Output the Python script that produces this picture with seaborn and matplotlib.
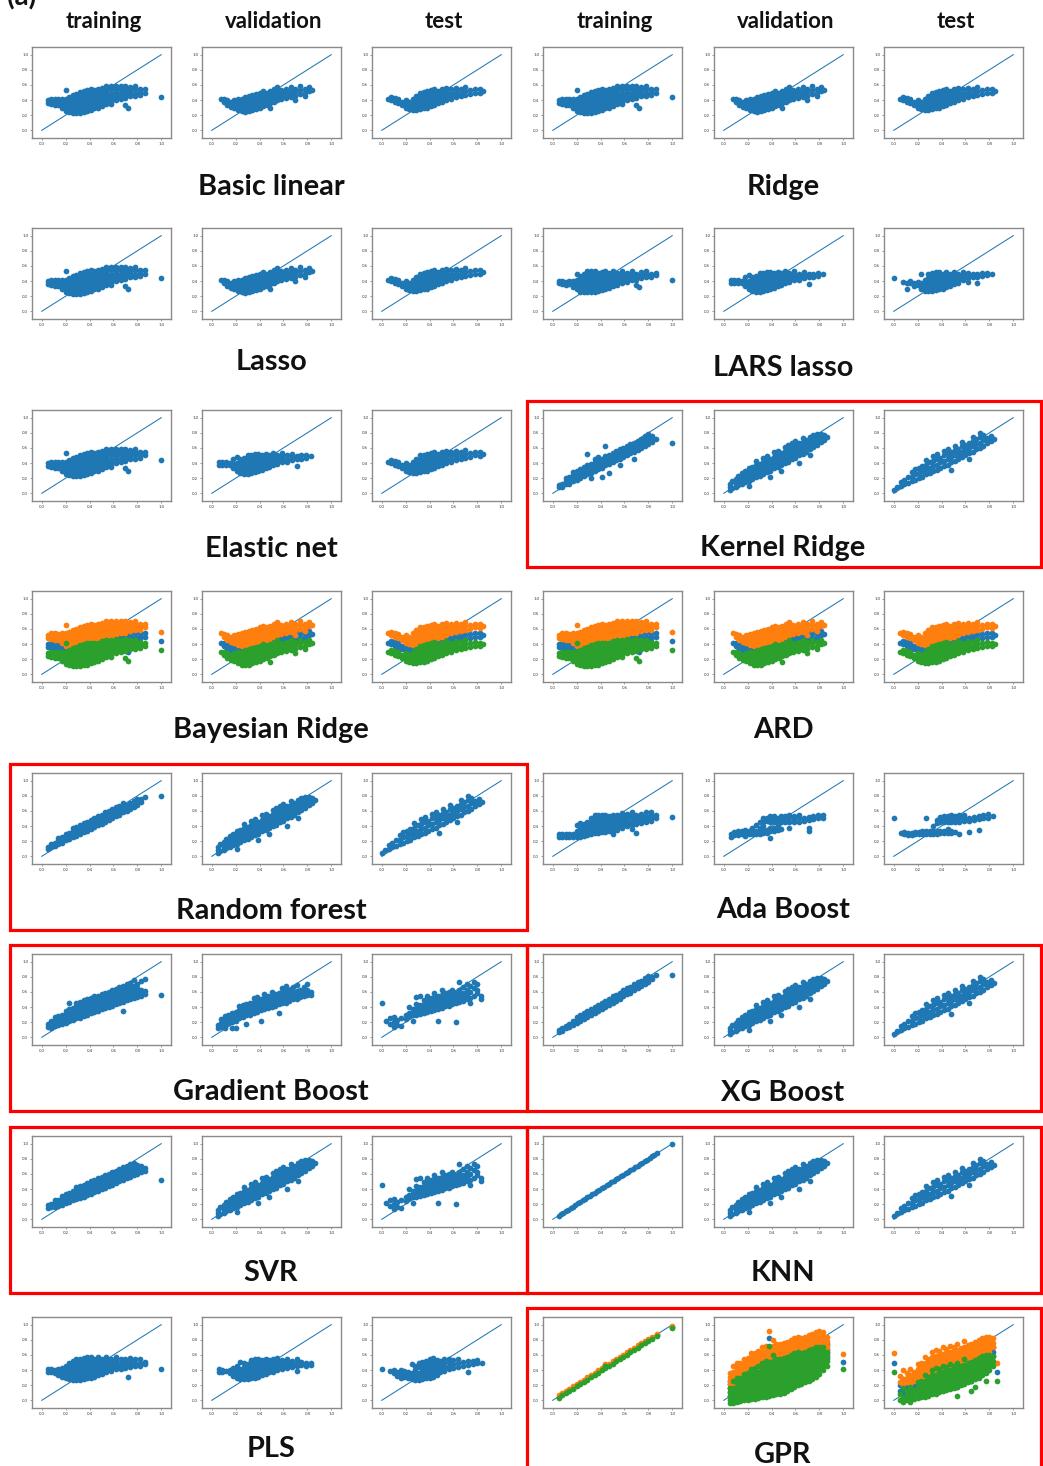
import matplotlib
matplotlib.use("Agg")
import matplotlib.pyplot as plt
from matplotlib.patches import Rectangle
import seaborn as sns

# ---------------------------------------------------------------------------
# Predicted (y) vs. actual (x) point clouds, stored column by column:
# each entry is (actual value, [predicted values at that actual value]).
# ---------------------------------------------------------------------------
FLAT_TRAIN = [
    (0.05, [0.36, 0.40]), (0.08, [0.35, 0.39, 0.42]), (0.11, [0.34, 0.38, 0.42]),
    (0.14, [0.33, 0.37, 0.41]), (0.17, [0.30, 0.34, 0.38, 0.42]),
    (0.20, [0.26, 0.30, 0.34, 0.38, 0.42, 0.53]), (0.23, [0.24, 0.28, 0.32, 0.36, 0.40, 0.44]),
    (0.26, [0.23, 0.27, 0.31, 0.35, 0.39, 0.43, 0.47]), (0.29, [0.23, 0.27, 0.31, 0.35, 0.39, 0.43, 0.48]),
    (0.32, [0.23, 0.27, 0.31, 0.35, 0.39, 0.43, 0.47, 0.51]),
    (0.35, [0.24, 0.28, 0.32, 0.36, 0.40, 0.44, 0.48, 0.52]),
    (0.38, [0.25, 0.29, 0.33, 0.37, 0.41, 0.45, 0.49, 0.53]),
    (0.41, [0.27, 0.31, 0.35, 0.39, 0.43, 0.47, 0.51, 0.54]),
    (0.44, [0.29, 0.33, 0.37, 0.41, 0.45, 0.49, 0.53]),
    (0.47, [0.30, 0.34, 0.38, 0.42, 0.46, 0.50, 0.54]),
    (0.50, [0.32, 0.36, 0.40, 0.44, 0.48, 0.52, 0.56]),
    (0.54, [0.35, 0.39, 0.43, 0.47, 0.51, 0.55, 0.58]),
    (0.58, [0.38, 0.42, 0.46, 0.50, 0.54, 0.58, 0.35]),
    (0.62, [0.40, 0.44, 0.48, 0.52, 0.56, 0.59]), (0.66, [0.42, 0.46, 0.50, 0.54, 0.58]),
    (0.70, [0.43, 0.47, 0.51, 0.55, 0.59, 0.33]), (0.72, [0.30]),
    (0.74, [0.45, 0.49, 0.53, 0.57]), (0.78, [0.46, 0.50, 0.54, 0.58]),
    (0.82, [0.47, 0.51, 0.55]), (0.86, [0.50, 0.54]), (1.00, [0.44]),
]
FLAT_VAL = [
    (0.08, [0.42]), (0.10, [0.37, 0.41]), (0.13, [0.34, 0.40]), (0.16, [0.31, 0.37]),
    (0.19, [0.30, 0.35, 0.40]), (0.22, [0.27, 0.31, 0.36, 0.41]),
    (0.25, [0.25, 0.29, 0.33, 0.37, 0.42]), (0.28, [0.24, 0.28, 0.32, 0.36, 0.40, 0.44]),
    (0.31, [0.25, 0.29, 0.33, 0.37, 0.41, 0.45]), (0.34, [0.27, 0.31, 0.35, 0.39, 0.43, 0.47]),
    (0.37, [0.28, 0.32, 0.36, 0.40, 0.44, 0.48]), (0.40, [0.30, 0.34, 0.38, 0.42, 0.46, 0.50]),
    (0.43, [0.32, 0.36, 0.40, 0.44, 0.48, 0.52]), (0.46, [0.34, 0.38, 0.42, 0.46, 0.50]),
    (0.49, [0.36, 0.40, 0.44, 0.48, 0.52, 0.29]), (0.52, [0.38, 0.42, 0.46, 0.50, 0.54]),
    (0.55, [0.40, 0.44, 0.48, 0.52, 0.57]), (0.58, [0.41, 0.45, 0.49, 0.53]),
    (0.62, [0.43, 0.47, 0.51, 0.55]), (0.66, [0.44, 0.48, 0.52, 0.57]),
    (0.70, [0.40, 0.46, 0.51, 0.55]), (0.74, [0.48, 0.53, 0.58]), (0.78, [0.45, 0.50, 0.55]),
    (0.81, [0.52, 0.57]), (0.84, [0.53]),
]
FLAT_TEST = [
    (0.05, [0.42]), (0.08, [0.40, 0.44]), (0.11, [0.38, 0.43]), (0.14, [0.36, 0.41]),
    (0.17, [0.33, 0.38]), (0.20, [0.30, 0.35, 0.40]), (0.23, [0.28, 0.33, 0.38]),
    (0.26, [0.27, 0.31, 0.36, 0.42]), (0.29, [0.27, 0.31, 0.35, 0.40, 0.46]),
    (0.32, [0.28, 0.32, 0.36, 0.40, 0.45, 0.50]), (0.35, [0.29, 0.33, 0.37, 0.41, 0.46, 0.51]),
    (0.38, [0.30, 0.34, 0.38, 0.42, 0.47, 0.52]), (0.41, [0.32, 0.36, 0.40, 0.44, 0.48, 0.53]),
    (0.44, [0.34, 0.38, 0.42, 0.46, 0.50, 0.55]), (0.47, [0.36, 0.40, 0.44, 0.48, 0.52]),
    (0.50, [0.38, 0.42, 0.46, 0.50, 0.54]), (0.54, [0.40, 0.44, 0.48, 0.52, 0.56]),
    (0.58, [0.42, 0.46, 0.50, 0.54]), (0.62, [0.44, 0.48, 0.52, 0.56]),
    (0.66, [0.45, 0.50, 0.55]), (0.70, [0.47, 0.52, 0.57]), (0.74, [0.48, 0.53]),
    (0.78, [0.50, 0.55]), (0.82, [0.49, 0.54]), (0.85, [0.52]),
]

LARS_TRAIN = [
    (0.05, [0.37, 0.40]), (0.08, [0.36, 0.40]), (0.11, [0.35, 0.39]), (0.14, [0.36, 0.40]),
    (0.17, [0.32, 0.36, 0.40]), (0.20, [0.29, 0.33, 0.37, 0.41, 0.49]),
    (0.23, [0.26, 0.30, 0.34, 0.38, 0.42, 0.47]), (0.26, [0.25, 0.29, 0.33, 0.37, 0.41, 0.45, 0.50]),
    (0.29, [0.25, 0.29, 0.33, 0.37, 0.41, 0.45, 0.50, 0.53]),
    (0.32, [0.25, 0.29, 0.33, 0.37, 0.41, 0.45, 0.49, 0.53]),
    (0.35, [0.26, 0.30, 0.34, 0.38, 0.42, 0.46, 0.50, 0.53]),
    (0.38, [0.27, 0.31, 0.35, 0.39, 0.43, 0.47, 0.51]),
    (0.41, [0.28, 0.32, 0.36, 0.40, 0.44, 0.48, 0.52]),
    (0.44, [0.29, 0.33, 0.37, 0.41, 0.45, 0.49, 0.53]),
    (0.47, [0.31, 0.35, 0.39, 0.43, 0.47, 0.51]), (0.50, [0.33, 0.37, 0.41, 0.45, 0.49, 0.53]),
    (0.54, [0.35, 0.39, 0.43, 0.47, 0.51]), (0.58, [0.37, 0.41, 0.45, 0.49, 0.53]),
    (0.62, [0.39, 0.43, 0.47, 0.51]), (0.66, [0.41, 0.45, 0.49, 0.53]),
    (0.70, [0.42, 0.46, 0.50, 0.35]), (0.72, [0.32]), (0.74, [0.44, 0.48, 0.52]),
    (0.78, [0.45, 0.49, 0.53]), (0.82, [0.46, 0.50]), (0.86, [0.48, 0.51]), (1.00, [0.42]),
]
LARS_VAL = [
    (0.06, [0.38, 0.41]), (0.09, [0.38, 0.41]), (0.12, [0.38, 0.41]), (0.15, [0.37, 0.40]),
    (0.18, [0.34, 0.39, 0.45]), (0.21, [0.30, 0.35, 0.40, 0.48]),
    (0.24, [0.27, 0.31, 0.36, 0.41, 0.46]), (0.27, [0.26, 0.30, 0.34, 0.38, 0.42, 0.47]),
    (0.30, [0.26, 0.30, 0.34, 0.38, 0.42, 0.46, 0.51]),
    (0.33, [0.27, 0.31, 0.35, 0.39, 0.43, 0.47, 0.51]),
    (0.36, [0.28, 0.32, 0.36, 0.40, 0.44, 0.48, 0.52]),
    (0.39, [0.29, 0.33, 0.37, 0.41, 0.45, 0.49, 0.52]),
    (0.42, [0.31, 0.35, 0.39, 0.43, 0.47, 0.51]), (0.45, [0.33, 0.37, 0.41, 0.45, 0.49, 0.52]),
    (0.48, [0.35, 0.39, 0.43, 0.47, 0.51]), (0.51, [0.37, 0.41, 0.45, 0.49, 0.53]),
    (0.55, [0.39, 0.43, 0.47, 0.51]), (0.59, [0.41, 0.45, 0.49, 0.53]),
    (0.63, [0.42, 0.46, 0.50]), (0.67, [0.44, 0.48, 0.52]), (0.71, [0.36, 0.45, 0.49]),
    (0.75, [0.46, 0.50]), (0.79, [0.47, 0.51]), (0.83, [0.49]),
]
LARS_TEST = [
    (0.00, [0.44]), (0.08, [0.39]), (0.11, [0.38, 0.30]), (0.14, [0.37, 0.40]),
    (0.17, [0.33, 0.38]), (0.20, [0.35, 0.39]), (0.23, [0.29, 0.33, 0.38, 0.49]),
    (0.26, [0.27, 0.31, 0.36, 0.41]), (0.29, [0.27, 0.31, 0.35, 0.39, 0.44, 0.49]),
    (0.32, [0.27, 0.31, 0.35, 0.39, 0.43, 0.47, 0.51]),
    (0.35, [0.28, 0.32, 0.36, 0.40, 0.44, 0.48, 0.52]),
    (0.38, [0.29, 0.33, 0.37, 0.41, 0.45, 0.49, 0.52]),
    (0.41, [0.30, 0.34, 0.38, 0.42, 0.46, 0.50]), (0.44, [0.32, 0.36, 0.40, 0.44, 0.48, 0.52]),
    (0.47, [0.34, 0.38, 0.42, 0.46, 0.50]), (0.50, [0.36, 0.40, 0.44, 0.48, 0.52]),
    (0.54, [0.38, 0.42, 0.46, 0.50]), (0.58, [0.41, 0.45, 0.49, 0.52]),
    (0.62, [0.39, 0.44, 0.48, 0.51]), (0.66, [0.45, 0.49]), (0.70, [0.38, 0.46, 0.50]),
    (0.74, [0.47, 0.51]), (0.78, [0.48, 0.51]), (0.82, [0.49]),
]

PLS_TRAIN = [
    (0.05, [0.38, 0.41]), (0.08, [0.37, 0.41]), (0.11, [0.36, 0.40]), (0.14, [0.33, 0.37, 0.41]),
    (0.17, [0.31, 0.35, 0.39, 0.43]), (0.20, [0.29, 0.33, 0.37, 0.41, 0.45]),
    (0.23, [0.28, 0.32, 0.36, 0.40, 0.44, 0.50]), (0.26, [0.27, 0.31, 0.35, 0.39, 0.43, 0.47, 0.52]),
    (0.29, [0.27, 0.31, 0.35, 0.39, 0.43, 0.47, 0.51, 0.54]),
    (0.32, [0.27, 0.31, 0.35, 0.39, 0.43, 0.47, 0.51, 0.55]),
    (0.35, [0.28, 0.32, 0.36, 0.40, 0.44, 0.48, 0.52, 0.56]),
    (0.38, [0.29, 0.33, 0.37, 0.41, 0.45, 0.49, 0.53, 0.57]),
    (0.41, [0.30, 0.34, 0.38, 0.42, 0.46, 0.50, 0.54, 0.57]),
    (0.44, [0.31, 0.35, 0.39, 0.43, 0.47, 0.51, 0.55]),
    (0.47, [0.33, 0.37, 0.41, 0.45, 0.49, 0.53, 0.57]),
    (0.50, [0.35, 0.39, 0.43, 0.47, 0.51, 0.55]), (0.54, [0.37, 0.41, 0.45, 0.49, 0.53, 0.57]),
    (0.58, [0.39, 0.43, 0.47, 0.51, 0.55]), (0.62, [0.41, 0.45, 0.49, 0.53, 0.57]),
    (0.66, [0.42, 0.46, 0.50, 0.54]), (0.70, [0.43, 0.47, 0.51, 0.55]), (0.72, [0.31]),
    (0.74, [0.44, 0.48, 0.52, 0.56]), (0.78, [0.46, 0.50, 0.54]), (0.82, [0.46, 0.50, 0.54]),
    (0.86, [0.48, 0.51]), (1.00, [0.42]),
]
PLS_VAL = [
    (0.06, [0.38, 0.41]), (0.09, [0.37, 0.40]), (0.12, [0.39]), (0.15, [0.36, 0.40]),
    (0.18, [0.32, 0.38, 0.43]), (0.21, [0.30, 0.35, 0.40, 0.46]),
    (0.24, [0.28, 0.32, 0.37, 0.42, 0.51]), (0.27, [0.28, 0.32, 0.36, 0.40, 0.44, 0.49]),
    (0.30, [0.28, 0.32, 0.36, 0.40, 0.44, 0.48]), (0.33, [0.29, 0.33, 0.37, 0.41, 0.45, 0.49, 0.53]),
    (0.36, [0.30, 0.34, 0.38, 0.42, 0.46, 0.50, 0.54]),
    (0.39, [0.31, 0.35, 0.39, 0.43, 0.47, 0.51, 0.55]),
    (0.42, [0.33, 0.37, 0.41, 0.45, 0.49, 0.53]), (0.45, [0.35, 0.39, 0.43, 0.47, 0.51, 0.55]),
    (0.48, [0.37, 0.41, 0.45, 0.49, 0.53]), (0.51, [0.38, 0.42, 0.46, 0.50, 0.54]),
    (0.55, [0.40, 0.44, 0.48, 0.52, 0.56]), (0.59, [0.41, 0.45, 0.49, 0.53]),
    (0.63, [0.43, 0.47, 0.51, 0.55]), (0.67, [0.44, 0.48, 0.52]), (0.71, [0.39, 0.46, 0.50, 0.54]),
    (0.75, [0.47, 0.51]), (0.79, [0.46, 0.50]), (0.83, [0.50, 0.47]),
]
PLS_TEST = [
    (0.00, [0.41]), (0.07, [0.39]), (0.10, [0.36, 0.40]), (0.13, [0.32, 0.38]),
    (0.16, [0.30, 0.36, 0.40]), (0.19, [0.31, 0.35, 0.39]), (0.22, [0.29, 0.33, 0.37]),
    (0.25, [0.28, 0.32, 0.36, 0.48]), (0.28, [0.27, 0.31, 0.35, 0.40, 0.46]),
    (0.31, [0.27, 0.31, 0.36, 0.44, 0.49]), (0.34, [0.28, 0.32, 0.37, 0.42, 0.47, 0.51]),
    (0.37, [0.29, 0.33, 0.38, 0.43, 0.48, 0.52]), (0.40, [0.30, 0.34, 0.39, 0.44, 0.49, 0.54]),
    (0.43, [0.31, 0.35, 0.40, 0.45, 0.50, 0.56]), (0.46, [0.34, 0.38, 0.43, 0.48, 0.53]),
    (0.49, [0.37, 0.42, 0.47, 0.52]), (0.52, [0.39, 0.44, 0.49, 0.54]),
    (0.56, [0.41, 0.46, 0.51, 0.55]), (0.60, [0.43, 0.48, 0.53]), (0.64, [0.44, 0.49, 0.54]),
    (0.68, [0.46, 0.51]), (0.72, [0.38, 0.47, 0.52]), (0.76, [0.48, 0.52]),
    (0.80, [0.49, 0.53]), (0.84, [0.50]),
]

ADA_TRAIN = [
    (0.05, [0.26, 0.30]), (0.08, [0.25, 0.29]), (0.11, [0.25, 0.29]), (0.14, [0.26, 0.30]),
    (0.17, [0.26, 0.30]), (0.20, [0.25, 0.29, 0.33, 0.41]), (0.23, [0.26, 0.30, 0.36, 0.40, 0.44]),
    (0.26, [0.27, 0.31, 0.35, 0.39, 0.43]), (0.29, [0.28, 0.32, 0.36, 0.40, 0.45]),
    (0.32, [0.30, 0.34, 0.38, 0.42, 0.46, 0.51]),
    (0.35, [0.31, 0.35, 0.39, 0.43, 0.47, 0.51, 0.55]),
    (0.38, [0.31, 0.35, 0.39, 0.43, 0.47, 0.51, 0.55]),
    (0.41, [0.32, 0.36, 0.40, 0.44, 0.48, 0.52, 0.55]),
    (0.44, [0.32, 0.36, 0.40, 0.44, 0.48, 0.52, 0.55]),
    (0.47, [0.33, 0.37, 0.41, 0.45, 0.49, 0.53]),
    (0.50, [0.30, 0.34, 0.38, 0.42, 0.46, 0.50, 0.55]),
    (0.54, [0.35, 0.39, 0.43, 0.47, 0.51, 0.55]), (0.58, [0.37, 0.41, 0.45, 0.49, 0.53, 0.57]),
    (0.62, [0.40, 0.44, 0.48, 0.52, 0.56]), (0.66, [0.42, 0.46, 0.50, 0.54, 0.58, 0.36]),
    (0.70, [0.43, 0.47, 0.51, 0.55, 0.31]), (0.74, [0.44, 0.48, 0.52, 0.56]),
    (0.78, [0.45, 0.49, 0.53, 0.58]), (0.82, [0.47, 0.51, 0.55, 0.58]),
    (0.86, [0.50, 0.54]), (1.00, [0.52]),
]
ADA_VAL = [
    (0.06, [0.26, 0.30]), (0.09, [0.28, 0.32]), (0.12, [0.28, 0.33]), (0.15, [0.29, 0.33]),
    (0.18, [0.27, 0.31, 0.35]), (0.21, [0.29, 0.33]), (0.24, [0.29, 0.33, 0.37]),
    (0.27, [0.30, 0.34, 0.42]), (0.30, [0.30, 0.34, 0.38, 0.46]),
    (0.33, [0.31, 0.35, 0.40, 0.46, 0.50]), (0.36, [0.31, 0.35, 0.47, 0.51]),
    (0.39, [0.24, 0.33, 0.37, 0.45, 0.49, 0.53]), (0.42, [0.34, 0.38, 0.46, 0.50, 0.53]),
    (0.45, [0.35, 0.42, 0.47, 0.51]), (0.48, [0.36, 0.46, 0.50, 0.53]), (0.51, [0.45, 0.49, 0.53]),
    (0.55, [0.38, 0.46, 0.50, 0.54]), (0.59, [0.45, 0.49, 0.53]), (0.63, [0.46, 0.50, 0.54]),
    (0.67, [0.47, 0.51]), (0.71, [0.33, 0.37, 0.48, 0.52]), (0.75, [0.49, 0.53]),
    (0.79, [0.50, 0.55]), (0.83, [0.51, 0.54]),
]
ADA_TEST = [
    (0.00, [0.50]), (0.06, [0.31]), (0.09, [0.29, 0.32]), (0.12, [0.28, 0.31]),
    (0.15, [0.28, 0.31]), (0.18, [0.29, 0.32]), (0.21, [0.29, 0.32]), (0.24, [0.30, 0.33]),
    (0.27, [0.30, 0.33, 0.50]), (0.30, [0.30, 0.33]), (0.33, [0.30, 0.33, 0.40]),
    (0.36, [0.30, 0.33, 0.44, 0.48]), (0.39, [0.31, 0.34, 0.45, 0.49, 0.52]),
    (0.42, [0.31, 0.34, 0.46, 0.50, 0.53]), (0.45, [0.31, 0.36, 0.45, 0.49, 0.53]),
    (0.48, [0.31, 0.34, 0.46, 0.50, 0.54]), (0.51, [0.32, 0.45, 0.49, 0.53]),
    (0.55, [0.30, 0.46, 0.50, 0.54]), (0.59, [0.47, 0.51, 0.55]), (0.63, [0.32, 0.47, 0.51]),
    (0.67, [0.48, 0.52]), (0.71, [0.35, 0.49, 0.53]), (0.75, [0.50, 0.54]),
    (0.79, [0.51, 0.56]), (0.83, [0.53]),
]

KRR_TRAIN = [
    (0.05, [0.08, 0.11]), (0.08, [0.09, 0.13]), (0.11, [0.12, 0.16, 0.20]),
    (0.14, [0.13, 0.17, 0.21]), (0.17, [0.16, 0.20, 0.24, 0.28]), (0.20, [0.18, 0.22, 0.26, 0.30]),
    (0.23, [0.20, 0.24, 0.28, 0.32]), (0.26, [0.23, 0.27, 0.31, 0.35]),
    (0.29, [0.25, 0.29, 0.33, 0.37, 0.52]), (0.32, [0.27, 0.31, 0.35, 0.39, 0.20]),
    (0.35, [0.30, 0.34, 0.38, 0.42, 0.46]), (0.38, [0.32, 0.36, 0.40, 0.44, 0.48]),
    (0.41, [0.34, 0.38, 0.42, 0.46, 0.22]), (0.44, [0.37, 0.41, 0.45, 0.49, 0.62]),
    (0.47, [0.39, 0.43, 0.47, 0.51, 0.27]), (0.50, [0.41, 0.45, 0.49, 0.53]),
    (0.53, [0.44, 0.48, 0.52, 0.56]), (0.56, [0.46, 0.50, 0.54, 0.58, 0.38]),
    (0.59, [0.48, 0.52, 0.56, 0.60]), (0.62, [0.50, 0.54, 0.58, 0.62]),
    (0.65, [0.53, 0.57, 0.61, 0.65]), (0.68, [0.55, 0.59, 0.63, 0.67, 0.45]),
    (0.71, [0.57, 0.61, 0.65, 0.69]), (0.74, [0.60, 0.64, 0.68, 0.72]),
    (0.77, [0.62, 0.66, 0.70, 0.76]), (0.80, [0.65, 0.69, 0.73, 0.78]),
    (0.83, [0.68, 0.72, 0.76]), (0.86, [0.72]), (1.00, [0.66]),
]
KRR_VAL = [
    (0.05, [0.04, 0.09, 0.13]), (0.07, [0.07, 0.16]), (0.10, [0.08, 0.13, 0.19]),
    (0.12, [0.11, 0.17, 0.23]), (0.15, [0.12, 0.18, 0.22, 0.27]), (0.18, [0.15, 0.20, 0.26, 0.30]),
    (0.21, [0.17, 0.23, 0.27, 0.33, 0.10]), (0.24, [0.19, 0.24, 0.30, 0.35]),
    (0.27, [0.22, 0.27, 0.32, 0.38, 0.43]), (0.30, [0.23, 0.29, 0.34, 0.39]),
    (0.33, [0.25, 0.31, 0.36, 0.41, 0.47]), (0.36, [0.28, 0.33, 0.38, 0.44, 0.49]),
    (0.39, [0.30, 0.35, 0.41, 0.46, 0.22]), (0.42, [0.33, 0.38, 0.43, 0.48, 0.54]),
    (0.45, [0.35, 0.40, 0.46, 0.51, 0.56]), (0.48, [0.37, 0.43, 0.48, 0.53, 0.30]),
    (0.51, [0.40, 0.45, 0.50, 0.56, 0.61]), (0.54, [0.42, 0.48, 0.53, 0.58, 0.64]),
    (0.57, [0.45, 0.50, 0.55, 0.60, 0.66]), (0.60, [0.47, 0.52, 0.58, 0.63, 0.69]),
    (0.63, [0.50, 0.55, 0.60, 0.66, 0.40]), (0.66, [0.52, 0.58, 0.63, 0.68, 0.73]),
    (0.69, [0.55, 0.60, 0.66, 0.71]), (0.72, [0.58, 0.63, 0.68, 0.74, 0.50]),
    (0.75, [0.61, 0.66, 0.71, 0.77]), (0.78, [0.64, 0.69, 0.74, 0.79]),
    (0.81, [0.68, 0.73, 0.78]), (0.84, [0.71, 0.77]), (0.86, [0.75]),
]
KRR_TEST = [
    (0.00, [0.04]), (0.03, [0.08]), (0.06, [0.10, 0.15]), (0.09, [0.12, 0.18]),
    (0.12, [0.14, 0.22]), (0.15, [0.16, 0.22, 0.28]), (0.18, [0.18, 0.25, 0.32]),
    (0.21, [0.20, 0.27, 0.34]), (0.24, [0.22, 0.29, 0.36]), (0.27, [0.25, 0.32, 0.38, 0.44]),
    (0.30, [0.27, 0.34, 0.41]), (0.33, [0.29, 0.36, 0.43, 0.49]), (0.36, [0.31, 0.38, 0.45, 0.52]),
    (0.39, [0.34, 0.41, 0.47]), (0.42, [0.36, 0.43, 0.50, 0.56]), (0.45, [0.38, 0.45, 0.52, 0.59]),
    (0.48, [0.41, 0.48, 0.55, 0.31]), (0.51, [0.43, 0.50, 0.57, 0.63]), (0.54, [0.45, 0.52, 0.59]),
    (0.57, [0.48, 0.55, 0.62, 0.68]), (0.60, [0.50, 0.57, 0.64]), (0.63, [0.53, 0.60, 0.67, 0.45]),
    (0.66, [0.55, 0.62, 0.69, 0.75]), (0.69, [0.58, 0.65, 0.72]), (0.72, [0.60, 0.67, 0.74, 0.80]),
    (0.75, [0.63, 0.70, 0.77]), (0.78, [0.66, 0.73]), (0.81, [0.69, 0.76]), (0.84, [0.72]),
]

RF_TRAIN = [
    (0.05, [0.10, 0.13]), (0.08, [0.12, 0.16]), (0.11, [0.14, 0.18]), (0.14, [0.16, 0.20, 0.24]),
    (0.17, [0.18, 0.22, 0.26]), (0.20, [0.21, 0.25, 0.29]), (0.23, [0.23, 0.27, 0.31]),
    (0.26, [0.25, 0.29, 0.33, 0.37]), (0.29, [0.27, 0.31, 0.35, 0.39]),
    (0.32, [0.30, 0.34, 0.38, 0.42]), (0.35, [0.32, 0.36, 0.40, 0.44]),
    (0.38, [0.34, 0.38, 0.42, 0.46]), (0.41, [0.36, 0.40, 0.44, 0.48]),
    (0.44, [0.39, 0.43, 0.47, 0.51]), (0.47, [0.41, 0.45, 0.49, 0.53]),
    (0.50, [0.43, 0.47, 0.51, 0.55]), (0.53, [0.46, 0.50, 0.54, 0.58]),
    (0.56, [0.48, 0.52, 0.56, 0.60]), (0.59, [0.50, 0.54, 0.58, 0.62]),
    (0.62, [0.53, 0.57, 0.61, 0.65]), (0.65, [0.55, 0.59, 0.63, 0.67]),
    (0.68, [0.58, 0.62, 0.66, 0.70]), (0.71, [0.60, 0.64, 0.68]), (0.74, [0.63, 0.67, 0.71]),
    (0.77, [0.65, 0.69, 0.73]), (0.80, [0.68, 0.72, 0.76]), (0.83, [0.72, 0.76]),
    (0.86, [0.78]), (1.00, [0.80]),
]

GB_TRAIN = [
    (0.05, [0.14, 0.18]), (0.08, [0.13, 0.17, 0.21]), (0.11, [0.15, 0.19, 0.23, 0.27]),
    (0.14, [0.16, 0.20, 0.24, 0.28]), (0.17, [0.18, 0.22, 0.26, 0.30]),
    (0.20, [0.19, 0.23, 0.27, 0.31, 0.35]), (0.23, [0.21, 0.25, 0.29, 0.33, 0.37, 0.46]),
    (0.26, [0.23, 0.27, 0.31, 0.35, 0.39]), (0.29, [0.25, 0.29, 0.33, 0.37, 0.41, 0.45]),
    (0.32, [0.26, 0.30, 0.34, 0.38, 0.42, 0.47]), (0.35, [0.28, 0.32, 0.36, 0.40, 0.44, 0.49]),
    (0.38, [0.30, 0.34, 0.38, 0.42, 0.46, 0.50]), (0.41, [0.32, 0.36, 0.40, 0.44, 0.48, 0.52]),
    (0.44, [0.33, 0.37, 0.41, 0.45, 0.49, 0.54]), (0.47, [0.35, 0.39, 0.43, 0.47, 0.51, 0.55]),
    (0.50, [0.37, 0.41, 0.45, 0.49, 0.53, 0.57]), (0.53, [0.39, 0.43, 0.47, 0.51, 0.55, 0.59]),
    (0.56, [0.40, 0.44, 0.48, 0.52, 0.56, 0.60]), (0.59, [0.42, 0.46, 0.50, 0.54, 0.58, 0.62]),
    (0.62, [0.44, 0.48, 0.52, 0.56, 0.60, 0.64]), (0.65, [0.46, 0.50, 0.54, 0.58, 0.62, 0.66]),
    (0.68, [0.47, 0.51, 0.55, 0.59, 0.63, 0.68, 0.35]),
    (0.71, [0.49, 0.53, 0.57, 0.61, 0.65, 0.70]), (0.74, [0.51, 0.55, 0.59, 0.63, 0.67, 0.72]),
    (0.77, [0.52, 0.56, 0.60, 0.64, 0.68, 0.76]), (0.80, [0.53, 0.57, 0.61, 0.65, 0.70]),
    (0.83, [0.55, 0.59, 0.63, 0.75]), (0.86, [0.57, 0.61, 0.77]), (1.00, [0.56]),
]
GB_VAL = [
    (0.05, [0.12, 0.16]), (0.08, [0.14, 0.19, 0.24]), (0.11, [0.12, 0.17, 0.22, 0.28]),
    (0.14, [0.19, 0.24, 0.30]), (0.17, [0.20, 0.26, 0.32, 0.13]), (0.20, [0.22, 0.28, 0.34, 0.12]),
    (0.23, [0.25, 0.30, 0.36, 0.42]), (0.26, [0.27, 0.32, 0.37, 0.43]),
    (0.29, [0.29, 0.34, 0.39, 0.44, 0.18]), (0.32, [0.30, 0.35, 0.40, 0.46]),
    (0.35, [0.32, 0.37, 0.42, 0.47, 0.52]), (0.38, [0.34, 0.39, 0.44, 0.49, 0.53]),
    (0.41, [0.36, 0.41, 0.46, 0.51, 0.22]), (0.44, [0.37, 0.42, 0.47, 0.52, 0.57]),
    (0.47, [0.39, 0.44, 0.49, 0.54]), (0.50, [0.40, 0.45, 0.50, 0.55, 0.60]),
    (0.53, [0.42, 0.47, 0.52, 0.57]), (0.56, [0.44, 0.49, 0.54, 0.59, 0.32]),
    (0.59, [0.45, 0.50, 0.55, 0.60, 0.65]), (0.62, [0.46, 0.51, 0.56, 0.61, 0.68]),
    (0.65, [0.48, 0.53, 0.58, 0.63]), (0.68, [0.50, 0.55, 0.60, 0.66]),
    (0.71, [0.51, 0.56, 0.61, 0.69]), (0.74, [0.53, 0.58, 0.63]), (0.77, [0.54, 0.60, 0.66]),
    (0.80, [0.56, 0.62, 0.70]), (0.83, [0.56, 0.60]),
]
GB_TEST = [
    (0.00, [0.45]), (0.04, [0.22]), (0.07, [0.18, 0.25]), (0.10, [0.14, 0.20, 0.27]),
    (0.13, [0.16, 0.23]), (0.16, [0.15, 0.26]), (0.20, [0.24, 0.30]), (0.23, [0.28, 0.32, 0.40]),
    (0.26, [0.29, 0.33, 0.37, 0.22]), (0.29, [0.30, 0.34, 0.38, 0.44, 0.53]),
    (0.32, [0.31, 0.35, 0.39, 0.43, 0.55]), (0.35, [0.32, 0.36, 0.40, 0.44, 0.49]),
    (0.38, [0.33, 0.37, 0.41, 0.45, 0.50, 0.55]), (0.41, [0.35, 0.39, 0.43, 0.47, 0.52]),
    (0.44, [0.36, 0.40, 0.44, 0.48, 0.53, 0.58]), (0.47, [0.38, 0.42, 0.46, 0.50, 0.55, 0.22]),
    (0.50, [0.39, 0.43, 0.47, 0.51, 0.56, 0.62]), (0.53, [0.41, 0.45, 0.49, 0.53, 0.58]),
    (0.56, [0.42, 0.46, 0.50, 0.54, 0.60]), (0.59, [0.44, 0.48, 0.52, 0.57, 0.63]),
    (0.62, [0.45, 0.49, 0.53, 0.58, 0.20]), (0.65, [0.47, 0.51, 0.56, 0.62, 0.73]),
    (0.68, [0.48, 0.53, 0.59, 0.66]), (0.71, [0.50, 0.56, 0.62, 0.70]),
    (0.74, [0.45, 0.52, 0.60, 0.68]), (0.77, [0.55, 0.65, 0.73]), (0.80, [0.58, 0.62, 0.70]),
    (0.83, [0.55, 0.50]),
]

XG_TRAIN = [
    (0.05, [0.07, 0.10]), (0.08, [0.09, 0.13]), (0.11, [0.12, 0.15]), (0.14, [0.14, 0.18]),
    (0.17, [0.17, 0.21]), (0.20, [0.19, 0.23, 0.27]), (0.23, [0.22, 0.26, 0.29]),
    (0.26, [0.24, 0.28, 0.32]), (0.29, [0.27, 0.31, 0.35]), (0.32, [0.30, 0.34, 0.38]),
    (0.35, [0.32, 0.36, 0.40]), (0.38, [0.35, 0.39, 0.43]), (0.41, [0.38, 0.42, 0.46]),
    (0.44, [0.40, 0.44, 0.48]), (0.47, [0.43, 0.47, 0.51]), (0.50, [0.46, 0.50, 0.54]),
    (0.53, [0.48, 0.52, 0.56]), (0.56, [0.51, 0.55, 0.59]), (0.59, [0.54, 0.58, 0.62]),
    (0.62, [0.57, 0.61, 0.65]), (0.65, [0.59, 0.63, 0.67]), (0.68, [0.62, 0.66, 0.70]),
    (0.71, [0.65, 0.69, 0.73]), (0.74, [0.68, 0.72, 0.75]), (0.77, [0.70, 0.74, 0.78]),
    (0.80, [0.73, 0.77, 0.81]), (0.83, [0.77, 0.80]), (0.86, [0.82]), (1.00, [0.82]),
]

SVR_TRAIN = [
    (0.05, [0.15, 0.19]), (0.08, [0.16, 0.20]), (0.11, [0.17, 0.21, 0.25]),
    (0.14, [0.18, 0.22, 0.26]), (0.17, [0.19, 0.23, 0.27, 0.31]), (0.20, [0.21, 0.25, 0.29, 0.33]),
    (0.23, [0.23, 0.27, 0.31, 0.35]), (0.26, [0.25, 0.29, 0.33, 0.37]),
    (0.29, [0.27, 0.31, 0.35, 0.39, 0.43]), (0.32, [0.28, 0.32, 0.36, 0.40, 0.44]),
    (0.35, [0.30, 0.34, 0.38, 0.42, 0.46]), (0.38, [0.32, 0.36, 0.40, 0.44, 0.48]),
    (0.41, [0.34, 0.38, 0.42, 0.46, 0.50]), (0.44, [0.36, 0.40, 0.44, 0.48, 0.52]),
    (0.47, [0.38, 0.42, 0.46, 0.50, 0.54]), (0.50, [0.40, 0.44, 0.48, 0.52, 0.56]),
    (0.53, [0.42, 0.46, 0.50, 0.54, 0.58]), (0.56, [0.44, 0.48, 0.52, 0.56, 0.60]),
    (0.59, [0.46, 0.50, 0.54, 0.58, 0.62]), (0.62, [0.48, 0.52, 0.56, 0.60, 0.64]),
    (0.65, [0.50, 0.54, 0.58, 0.62, 0.66]), (0.68, [0.52, 0.56, 0.60, 0.64, 0.69]),
    (0.71, [0.54, 0.58, 0.62, 0.66, 0.71]), (0.74, [0.56, 0.60, 0.64, 0.68, 0.73]),
    (0.77, [0.58, 0.62, 0.66, 0.70, 0.75]), (0.80, [0.60, 0.64, 0.68, 0.72]),
    (0.83, [0.62, 0.66, 0.70]), (0.86, [0.64, 0.68]), (1.00, [0.52]),
]

KNN_TRAIN = [
    (0.05, [0.05]), (0.07, [0.07]), (0.09, [0.09]), (0.11, [0.11]), (0.13, [0.13]),
    (0.15, [0.15]), (0.17, [0.17]), (0.19, [0.19]), (0.21, [0.21]), (0.23, [0.23]),
    (0.25, [0.25]), (0.27, [0.27]), (0.29, [0.29]), (0.31, [0.31]), (0.33, [0.33]),
    (0.35, [0.35]), (0.37, [0.37]), (0.39, [0.39]), (0.41, [0.41]), (0.43, [0.43]),
    (0.45, [0.45]), (0.47, [0.47]), (0.49, [0.49]), (0.51, [0.51]), (0.53, [0.53]),
    (0.55, [0.55]), (0.57, [0.57]), (0.59, [0.59]), (0.61, [0.61]), (0.63, [0.63]),
    (0.65, [0.65]), (0.67, [0.67]), (0.69, [0.69]), (0.71, [0.71]), (0.73, [0.73]),
    (0.75, [0.75]), (0.77, [0.77]), (0.79, [0.79]), (0.81, [0.81]), (0.83, [0.83]),
    (0.85, [0.85]), (0.87, [0.87]), (1.00, [1.00]),
]
GPR_TRAIN = [
    (0.05, [0.05]), (0.08, [0.08]), (0.11, [0.11]), (0.14, [0.14]), (0.17, [0.17]),
    (0.20, [0.20]), (0.23, [0.23]), (0.26, [0.26]), (0.29, [0.29]), (0.32, [0.32]),
    (0.35, [0.35]), (0.38, [0.38]), (0.41, [0.41]), (0.44, [0.44, 0.47]), (0.47, [0.47]),
    (0.50, [0.50]), (0.53, [0.53]), (0.56, [0.56]), (0.59, [0.59]), (0.62, [0.62]),
    (0.65, [0.65]), (0.68, [0.68]), (0.71, [0.71]), (0.74, [0.74]), (0.77, [0.77]),
    (0.80, [0.80]), (0.83, [0.82]), (0.87, [0.86]), (1.00, [0.97]),
]
GPR_VAL = [
    (0.05, [0.06, 0.11, 0.16, 0.21, 0.26]), (0.08, [0.07, 0.12, 0.17, 0.22, 0.27, 0.36]),
    (0.11, [0.08, 0.13, 0.18, 0.23, 0.28, 0.33, 0.40]),
    (0.14, [0.09, 0.14, 0.19, 0.24, 0.29, 0.34, 0.39]),
    (0.17, [0.10, 0.15, 0.20, 0.25, 0.30, 0.35, 0.40, 0.45]),
    (0.20, [0.11, 0.16, 0.21, 0.26, 0.31, 0.36, 0.41, 0.46]),
    (0.23, [0.12, 0.17, 0.22, 0.27, 0.32, 0.37, 0.42, 0.47, 0.52]),
    (0.26, [0.12, 0.17, 0.22, 0.27, 0.32, 0.37, 0.42, 0.47, 0.53]),
    (0.29, [0.13, 0.18, 0.23, 0.28, 0.33, 0.38, 0.43, 0.48, 0.55]),
    (0.32, [0.14, 0.19, 0.24, 0.29, 0.34, 0.39, 0.44, 0.49, 0.54, 0.60]),
    (0.35, [0.15, 0.20, 0.25, 0.30, 0.35, 0.40, 0.45, 0.50, 0.55, 0.62]),
    (0.38, [0.16, 0.21, 0.26, 0.31, 0.36, 0.41, 0.46, 0.51, 0.56, 0.61, 0.82]),
    (0.41, [0.17, 0.22, 0.27, 0.32, 0.37, 0.42, 0.47, 0.52, 0.57, 0.62, 0.70]),
    (0.44, [0.18, 0.23, 0.28, 0.33, 0.38, 0.43, 0.48, 0.53, 0.58, 0.64]),
    (0.47, [0.19, 0.24, 0.29, 0.34, 0.39, 0.44, 0.49, 0.54, 0.59, 0.65]),
    (0.50, [0.20, 0.25, 0.30, 0.35, 0.40, 0.45, 0.50, 0.55, 0.60, 0.66]),
    (0.53, [0.22, 0.27, 0.32, 0.37, 0.42, 0.47, 0.52, 0.57, 0.62, 0.67]),
    (0.56, [0.25, 0.30, 0.35, 0.40, 0.45, 0.50, 0.55, 0.60, 0.65, 0.70]),
    (0.59, [0.28, 0.33, 0.38, 0.43, 0.48, 0.53, 0.58, 0.63, 0.68, 0.72]),
    (0.62, [0.30, 0.35, 0.40, 0.45, 0.50, 0.55, 0.60, 0.65, 0.70, 0.74]),
    (0.65, [0.32, 0.37, 0.42, 0.47, 0.52, 0.57, 0.62, 0.67, 0.72]),
    (0.68, [0.34, 0.39, 0.44, 0.49, 0.54, 0.59, 0.64, 0.69, 0.74]),
    (0.71, [0.36, 0.41, 0.46, 0.51, 0.56, 0.61, 0.66, 0.71, 0.76]),
    (0.74, [0.38, 0.43, 0.48, 0.53, 0.58, 0.63, 0.68, 0.73, 0.78]),
    (0.77, [0.41, 0.46, 0.51, 0.56, 0.61, 0.66, 0.71, 0.76, 0.80]),
    (0.80, [0.45, 0.50, 0.55, 0.60, 0.65, 0.70, 0.75, 0.81]),
    (0.83, [0.50, 0.55, 0.60, 0.65, 0.70, 0.75, 0.80]),
    (0.86, [0.56, 0.62, 0.68, 0.74]), (1.00, [0.51]),
]
GPR_TEST = [
    (0.00, [0.50]), (0.05, [0.12, 0.20]), (0.08, [0.10, 0.16, 0.28]), (0.11, [0.12, 0.18, 0.24]),
    (0.14, [0.10, 0.16, 0.22, 0.30]), (0.17, [0.14, 0.20, 0.26]),
    (0.20, [0.15, 0.20, 0.25, 0.30, 0.36]), (0.23, [0.16, 0.21, 0.26, 0.31, 0.38]),
    (0.26, [0.17, 0.22, 0.27, 0.32, 0.37, 0.45]), (0.29, [0.18, 0.23, 0.28, 0.33, 0.38, 0.43]),
    (0.32, [0.20, 0.25, 0.30, 0.35, 0.40, 0.45, 0.52]),
    (0.35, [0.21, 0.26, 0.31, 0.36, 0.41, 0.46, 0.55]),
    (0.38, [0.23, 0.28, 0.33, 0.38, 0.43, 0.48, 0.53]),
    (0.41, [0.24, 0.29, 0.34, 0.39, 0.44, 0.49, 0.58]),
    (0.44, [0.26, 0.31, 0.36, 0.41, 0.46, 0.51, 0.56]),
    (0.47, [0.27, 0.32, 0.37, 0.42, 0.47, 0.52, 0.60]),
    (0.50, [0.29, 0.34, 0.39, 0.44, 0.49, 0.54, 0.58]),
    (0.53, [0.30, 0.35, 0.40, 0.45, 0.50, 0.55, 0.62, 0.18]),
    (0.56, [0.32, 0.37, 0.42, 0.47, 0.52, 0.57]),
    (0.59, [0.34, 0.39, 0.44, 0.49, 0.54, 0.59, 0.66]),
    (0.62, [0.36, 0.41, 0.46, 0.51, 0.56, 0.61]),
    (0.65, [0.38, 0.43, 0.48, 0.53, 0.58, 0.63, 0.25]),
    (0.68, [0.40, 0.45, 0.50, 0.55, 0.60, 0.65, 0.30]),
    (0.71, [0.42, 0.47, 0.52, 0.57, 0.62, 0.68]), (0.74, [0.45, 0.50, 0.55, 0.60, 0.65, 0.70]),
    (0.77, [0.48, 0.53, 0.58, 0.63, 0.68, 0.72, 0.38]), (0.80, [0.52, 0.57, 0.62, 0.67, 0.72]),
    (0.83, [0.58, 0.64, 0.70]), (0.86, [0.38]),
]

# Models in reading order: (left group, right group) per row.
MODEL_ROWS = [
    ("Basic linear", "Ridge"),
    ("Lasso", "LARS lasso"),
    ("Elastic net", "Kernel Ridge"),
    ("Bayesian Ridge", "ARD"),
    ("Random forest", "Ada Boost"),
    ("Gradient Boost", "XG Boost"),
    ("SVR", "KNN"),
    ("PLS", "GPR"),
]
# (training, validation, test) clouds per model.
MODEL_DATA = {
    "Basic linear": (FLAT_TRAIN, FLAT_VAL, FLAT_TEST),
    "Ridge": (FLAT_TRAIN, FLAT_VAL, FLAT_TEST),
    "Lasso": (FLAT_TRAIN, FLAT_VAL, FLAT_TEST),
    "LARS lasso": (LARS_TRAIN, LARS_VAL, LARS_TEST),
    "Elastic net": (FLAT_TRAIN, LARS_VAL, FLAT_TEST),
    "Kernel Ridge": (KRR_TRAIN, KRR_VAL, KRR_TEST),
    "Bayesian Ridge": (FLAT_TRAIN, FLAT_VAL, FLAT_TEST),
    "ARD": (FLAT_TRAIN, FLAT_VAL, FLAT_TEST),
    "Random forest": (RF_TRAIN, KRR_VAL, KRR_TEST),
    "Ada Boost": (ADA_TRAIN, ADA_VAL, ADA_TEST),
    "Gradient Boost": (GB_TRAIN, GB_VAL, GB_TEST),
    "XG Boost": (XG_TRAIN, KRR_VAL, KRR_TEST),
    "SVR": (SVR_TRAIN, KRR_VAL, GB_TEST),
    "KNN": (KNN_TRAIN, KRR_VAL, KRR_TEST),
    "PLS": (PLS_TRAIN, PLS_VAL, PLS_TEST),
    "GPR": (GPR_TRAIN, GPR_VAL, GPR_TEST),
}
# Predictive standard deviation for models plotted as mean, mean+std, mean-std.
PRED_STD = {
    "Bayesian Ridge": (0.12, 0.12, 0.12),
    "ARD": (0.12, 0.12, 0.12),
    "GPR": (0.015, 0.10, 0.12),
}
# Title heights (pixels from top) for each row's left / right model names.
TITLE_Y = [(187, 187), (362, 368), (549, 548), (730, 730),
           (911, 910), (1092, 1093), (1273, 1273), (1449, 1455)]
HIGHLIGHTED = ["Kernel Ridge", "Random forest", "Gradient Boost", "XG Boost",
               "SVR", "KNN", "GPR"]
SPLITS = ["training", "validation", "test"]
TICKS = [0.0, 0.2, 0.4, 0.6, 0.8, 1.0]

BLUE, ORANGE, GREEN = "#1f77b4", "#ff7f0e", "#2ca02c"

W, H = 1043, 1466
COL_LEFT = [32, 202, 372, 543, 714, 884]
ROW_TOP = [47, 228, 410, 591, 773, 954, 1136, 1317]
AX_W, AX_H = 139, 91

sns.set_theme(style="white")
plt.rcParams["font.family"] = ["Lato", "DejaVu Sans"]

fig = plt.figure(figsize=(W / 100, H / 100), dpi=100)
fig.patch.set_facecolor("white")


def to_xy(cols):
    xs, ys = [], []
    for x, yv in cols:
        for y in yv:
            xs.append(x)
            ys.append(y)
    return xs, ys


def px_axes(left, top):
    return fig.add_axes([left / W, 1 - (top + AX_H) / H, AX_W / W, AX_H / H])


def draw_panel(ax, cols, std=None):
    xs, ys = to_xy(cols)
    sns.lineplot(x=[0.0, 1.0], y=[0.0, 1.0], ax=ax, color=BLUE, lw=0.75, zorder=1)
    kw = dict(ax=ax, s=17, linewidth=0, legend=False, zorder=2)
    sns.scatterplot(x=xs, y=ys, color=BLUE, **kw)
    if std is not None:
        sns.scatterplot(x=xs, y=[y + std for y in ys], color=ORANGE, **kw)
        sns.scatterplot(x=xs, y=[y - std for y in ys], color=GREEN, **kw)
    ax.set_xlim(-0.08, 1.08)
    ax.set_ylim(-0.1, 1.1)
    ax.set_xticks(TICKS)
    ax.set_yticks(TICKS)
    ax.set_xticklabels([f"{t:.1f}" for t in TICKS])
    ax.set_yticklabels([f"{t:.1f}" for t in TICKS])
    ax.tick_params(labelsize=3.2, length=1.5, width=0.4, pad=1.2, colors="#555555",
                   labelcolor="#444444", bottom=True, left=True)
    for sp in ax.spines.values():
        sp.set_color("#8a8a8a")
        sp.set_linewidth(1.0)
    ax.set_xlabel("")
    ax.set_ylabel("")


for r, pair in enumerate(MODEL_ROWS):
    for g, model in enumerate(pair):
        clouds = MODEL_DATA[model]
        stds = PRED_STD.get(model)
        for s in range(3):
            ax = px_axes(COL_LEFT[3 * g + s], ROW_TOP[r])
            draw_panel(ax, clouds[s], None if stds is None else stds[s])
        cx = 271 if g == 0 else 783
        fig.text(cx / W, 1 - TITLE_Y[r][g] / H, model, ha="center", va="center",
                 fontsize=20.8, fontweight="bold", color="#111111")

# Split headers over the first row.
for c in range(6):
    fig.text((COL_LEFT[c] + AX_W / 2 + 2) / W, 1 - 22 / H, SPLITS[c % 3], ha="center",
             va="center", fontsize=16, fontweight="bold", color="#111111")

# Panel letter, partly above the top edge.
fig.text(22 / W, 1 - 5 / H, "(a)", ha="center", va="baseline", fontsize=20,
         fontweight="bold", color="#111111")

# Red frames around the best-performing models.
BOX = {0: (10, 527), 1: (527, 1041)}
for r, pair in enumerate(MODEL_ROWS):
    for g, model in enumerate(pair):
        if model in HIGHLIGHTED:
            x0, x1 = BOX[g]
            y0 = ROW_TOP[r] - 9
            y1 = min(y0 + 166, H + 5)
            fig.add_artist(Rectangle((x0 / W, 1 - y1 / H), (x1 - x0) / W, (y1 - y0) / H,
                                     transform=fig.transFigure, fill=False,
                                     edgecolor="#ff0000", linewidth=2.3, zorder=10))

fig.savefig("out.png", dpi=100, facecolor="white")
